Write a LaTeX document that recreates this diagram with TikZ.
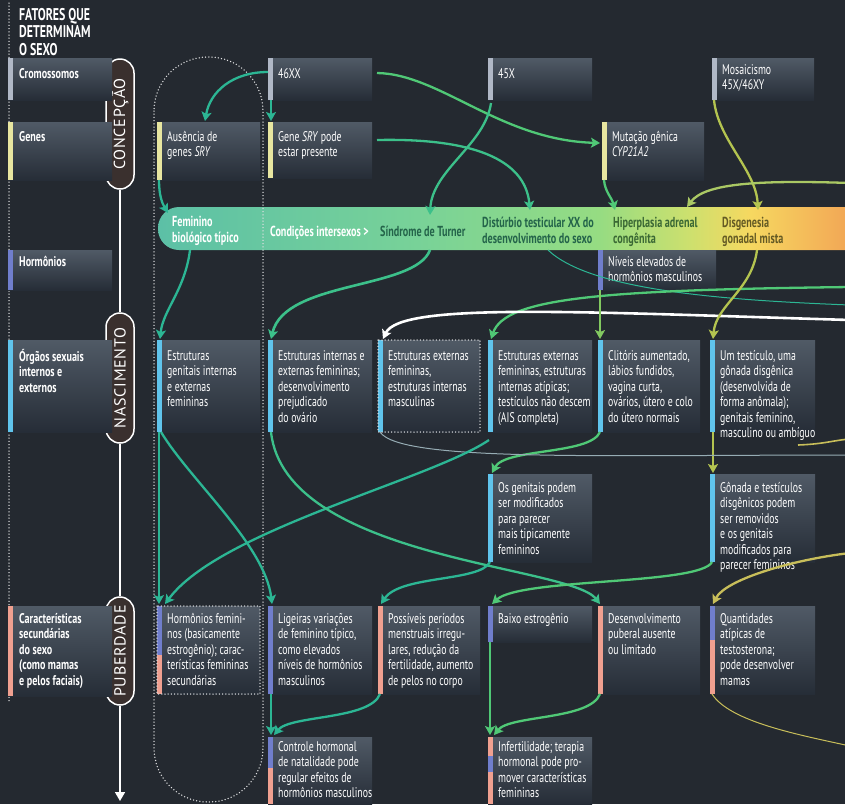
\documentclass[tikz,border=0pt]{standalone}
\usepackage{fontspec}
\setmainfont{PT Sans}[FakeStretch=0.7]
\newfontfamily\labfont{PT Sans}[FakeStretch=0.72]
\newfontfamily\pillfont{PT Sans}[LetterSpace=5]
\usetikzlibrary{arrows.meta,calc}
\definecolor{bg}{RGB}{36,41,48}
\definecolor{boxtop}{RGB}{80,90,102}
\definecolor{boxbot}{RGB}{38,45,55}
\definecolor{bargrey}{RGB}{176,184,198}
\definecolor{baryel}{RGB}{232,230,160}
\definecolor{barpur}{RGB}{112,126,204}
\definecolor{barblu}{RGB}{96,196,236}
\definecolor{barsal}{RGB}{240,160,144}
\definecolor{cteal}{RGB}{44,182,148}
\definecolor{cteal2}{RGB}{60,192,138}
\definecolor{cgreen}{RGB}{80,200,118}
\definecolor{cgreen2}{RGB}{130,200,96}
\definecolor{cyg}{RGB}{180,196,80}
\definecolor{cyg2}{RGB}{170,200,100}
\definecolor{cyel}{RGB}{200,190,90}
\definecolor{cpale}{RGB}{150,172,180}
\definecolor{pillfill}{RGB}{58,48,46}
\definecolor{bandA}{RGB}{92,192,166}
\definecolor{bandB}{RGB}{120,210,152}
\definecolor{bandC}{RGB}{150,220,130}
\definecolor{bandD}{RGB}{205,224,110}
\definecolor{bandE}{RGB}{246,216,96}
\definecolor{bandF}{RGB}{242,168,86}
\definecolor{btxtA}{RGB}{36,100,74}
\definecolor{btxtB}{RGB}{58,104,52}
\definecolor{btxtC}{RGB}{100,90,36}
\pgfdeclarehorizontalshading{bandshade}{100bp}{color(0bp)=(bandA); color(25bp)=(bandA); color(43bp)=(bandB); color(55.6bp)=(bandC); color(61.8bp)=(bandD); color(66bp)=(bandE); color(72.6bp)=(bandF); color(100bp)=(bandF)}
\newcommand\cbox[8]{%
  \node[cboxst,minimum width=#4pt,minimum height=#5pt,anchor=north west] (#1) at (#2,#3) {};
  \fill[#6] (#1.north west) rectangle ($(#1.south west)+(5,0)$);
  \node[ctext,anchor=north west] (#1t) at ($(#1.north west)+(10,#7)$) {\strut #8};
}
\newcommand\lbox[8]{%
  \node[cboxst,minimum width=#4pt,minimum height=#5pt,anchor=north west] (#1) at (#2,#3) {};
  \fill[#6] (#1.north west) rectangle ($(#1.south west)+(5,0)$);
  \node[ltext,anchor=north west] (#1t) at ($(#1.north west)+(11,#7)$) {\strut #8};
}
\begin{document}
\begin{tikzpicture}[x=1pt,y=-1pt,
  cboxst/.style={rectangle,inner sep=0pt,outer sep=0pt,top color=boxtop,bottom color=boxbot,draw=none},
  ctext/.style={inner sep=0pt,align=left,text=white,font=\fontsize{14}{15.5}\selectfont},
  ltext/.style={inner sep=0pt,align=left,text=white,font=\labfont\fontsize{14}{15.5}\selectfont\bfseries},
  title/.style={inner sep=0pt,align=left,text=white,font=\fontsize{17}{17.5}\selectfont\bfseries},
  bandtxt/.style={inner sep=0pt,align=left,font=\fontsize{14.5}{16}\selectfont\bfseries},
  bandst/.style={rectangle,inner sep=0pt,outer sep=0pt,rounded corners=21pt,shade,shading=bandshade},
  pill/.style={rectangle,rounded corners=14pt,draw=white,line width=1.5pt,fill=pillfill,minimum height=28pt,inner sep=0pt,rotate=90,text=white,font=\pillfont\fontsize{16}{16}\selectfont},
  dots/.style={draw=white!85!bg,line width=1.5pt,dash pattern=on 0pt off 3.2pt,line cap=round},
  conn/.style={line width=2.3pt,-{Stealth[length=9pt,width=10pt,inset=2pt]}},
  thinln/.style={line width=1pt}
]
\useasboundingbox (0,0) rectangle (845,804);
\fill[bg] (0,0) rectangle (845,804);
\coordinate (r1) at (850,183);
\coordinate (r2) at (850,287);
\coordinate (r3) at (850,320);
\coordinate (r4) at (850,305);
\coordinate (r6) at (850,455);
\coordinate (r7) at (850,553);
\coordinate (r8) at (850,746);
\coordinate (r9) at (850,439);
\coordinate (tlend) at (120,801);

% left dotted guide
\draw[dots] (9,3) -- (9,702);

% band
\node[bandst,minimum width=722pt,minimum height=43pt,anchor=north west] (band) at (158,207) {};
\node[bandtxt,text=white,anchor=north west] (tFem) at (172,215) {\strut Feminino\\biológico típico};
\node[bandtxt,text=white,anchor=north west] (tCond) at (270,225) {\strut Condições intersexos\,>};
\node[bandtxt,text=btxtA,anchor=north west] (tTurner) at (380,225) {\strut Síndrome de Turner};
\node[bandtxt,text=btxtA,anchor=north west] (tDist) at (482,216) {\strut Distúrbio testicular XX do\\desenvolvimento do sexo};
\node[bandtxt,text=btxtB,anchor=north west] (tHip) at (613,216) {\strut Hiperplasia adrenal\\congênita};
\node[bandtxt,text=btxtC,anchor=north west] (tDis) at (722,216) {\strut Disgenesia\\gonadal mista};

% dotted oval
\draw[dots,rounded corners=54pt] (154,57) rectangle (263,802);

% title
\node[title,anchor=north west] (title) at (19,8) {\strut FATORES QUE\\DETERMINAM\\O SEXO};

% timeline
\node[pill,minimum width=130pt] (pConc) at (120,124) {CONCEPÇÃO};
\node[pill,minimum width=130pt] (pNasc) at (120,378) {NASCIMENTO};
\node[pill,minimum width=108pt] (pPub) at (120,651) {PUBERDADE};
\draw[white,line width=1.6pt] (pConc.west) -- (pNasc.east);
\draw[white,line width=1.6pt] (pNasc.west) -- (pPub.east);
\draw[white,line width=1.6pt,-{Triangle[length=9pt,width=10pt]}] (pPub.west) -- (tlend);

% yellow line behind box
\draw[thinln,cyel,line width=1.6pt] ($(band.south west)+(640,195)$) .. controls (825,444) and (835,440) .. (r9);

% row labels
\lbox{lCrom}{8}{58}{104}{42}{bargrey}{9}{Cromossomos}
\lbox{lGenes}{8}{122}{104}{58}{baryel}{8}{Genes}
\lbox{lHorm}{8}{250}{104}{40}{barpur}{5}{Hormônios}
\lbox{lOrg}{8}{340}{104}{92}{barblu}{9}{Órgãos sexuais\\internos e\\externos}
\lbox{lCar}{8}{606}{104}{90}{barsal}{6}{Características\\secundárias\\do sexo\\(como mamas\\e pelos faciais)}

% row 1
\cbox{b46}{268}{58}{104}{42}{bargrey}{9}{46XX}
\cbox{b45}{488}{58}{104}{42}{bargrey}{9}{45X}
\cbox{bMos}{712}{58}{102}{42}{bargrey}{5}{Mosaicismo\\45X/46XY}
% row 2
\cbox{bAus}{157}{122}{103}{58}{baryel}{8}{Ausência de\\genes \textit{SRY}}
\cbox{bSRY}{268}{122}{104}{56}{baryel}{8}{Gene \textit{SRY} pode\\estar presente}
\cbox{bCYP}{602}{122}{102}{58}{baryel}{8}{Mutação gênica\\\textit{CYP21A2}}
% hormones
\cbox{bNiv}{598}{250}{118}{40}{barpur}{5}{Níveis elevados de\\hormônios masculinos}
% row 4
\cbox{bO1}{157}{340}{103}{92}{barblu}{9}{Estruturas\\genitais internas\\e externas\\femininas}
\cbox{bO2}{268}{340}{104}{92}{barblu}{9}{Estruturas internas e\\externas femininas;\\desenvolvimento\\prejudicado\\do ovário}
\cbox{bO3}{378}{340}{102}{92}{barblu}{9}{Estruturas externas\\femininas,\\estruturas internas\\masculinas}
\cbox{bO4}{488}{340}{104}{92}{barblu}{9}{Estruturas externas\\femininas, estruturas\\internas atípicas;\\testículos não descem\\(AIS completa)}
\cbox{bO5}{598}{340}{102}{92}{barblu}{9}{Clitóris aumentado,\\lábios fundidos,\\vagina curta,\\ovários, útero e colo\\do útero normais}
\cbox{bO6}{710}{340}{105}{92}{barblu}{9}{Um testículo, uma\\gônada disgênica\\(desenvolvida de\\forma anômala);\\genitais feminino,\\masculino ou ambíguo}
\draw[dots] (bO3.north west) rectangle (bO3.south east);
% row 5
\cbox{bG1}{488}{474}{104}{88}{barblu}{7}{Os genitais podem\\ser modificados\\para parecer\\mais tipicamente\\femininos}
\cbox{bG2}{710}{474}{105}{88}{barblu}{7}{Gônada e testículos\\disgênicos podem\\ser removidos\\e os genitais\\modificados para\\parecer femininos}
% row 6
\cbox{bC1}{157}{606}{103}{88}{barpur}{6}{Hormônios femini-\\nos (basicamente\\estrogênio); carac-\\terísticas femininas\\secundárias}
\fill[barsal] ($(bC1.north west)+(0,49)$) rectangle ($(bC1.south west)+(5,0)$);
\draw[dots] (bC1.north west) rectangle (bC1.south east);
\cbox{bC2}{268}{606}{104}{88}{barpur}{6}{Ligeiras variações\\de feminino típico,\\como elevados\\níveis de hormônios\\masculinos}
\cbox{bC3}{378}{606}{102}{88}{barsal}{6}{Possíveis períodos\\menstruais irregu-\\lares, redução da\\fertilidade, aumento\\de pelos no corpo}
\cbox{bC4}{488}{606}{104}{36}{barpur}{6}{Baixo estrogênio}
\cbox{bC5}{598}{606}{102}{88}{barsal}{6}{Desenvolvimento\\puberal ausente\\ou limitado}
\cbox{bC6}{710}{606}{105}{88}{barpur}{6}{Quantidades\\atípicas de\\testosterona;\\pode desenvolver\\mamas}
\fill[barsal] ($(bC6.north west)+(0,34)$) rectangle ($(bC6.south west)+(5,0)$);
% row 7
\cbox{bF1}{268}{737}{104}{67}{barpur}{3}{Controle hormonal\\de natalidade pode\\regular efeitos de\\hormônios masculinos}
\fill[barsal] ($(bF1.north west)+(0,31)$) rectangle ($(bF1.south west)+(5,0)$);
\cbox{bF2}{488}{737}{104}{67}{barsal}{3}{Infertilidade; terapia\\hormonal pode pro-\\mover características\\femininas}
\fill[barpur] ($(bF2.north west)+(0,19)$) rectangle ($(bF2.north west)+(5,35)$);

% connectors
\draw[conn,cteal] ($(b46.north west)+(0,14)$) .. controls (232,72) and (210,92) .. ($(bAus.north west)+(48,-1)$);
\draw[conn,cteal] ($(b46.south west)+(3,0)$) -- ($(bSRY.north west)+(3,-1)$);
\draw[conn,cgreen] ($(b46.north east)+(5,15)$) .. controls (440,74) and (500,140) .. ($(bCYP.north west)+(-2,21)$);
\draw[conn,cteal2] ($(bSRY.north east)+(5,18)$) .. controls (470,138) and (525,158) .. ($(band.north west)+(372,3)$);
\draw[conn,cteal2] ($(b45.south west)+(3,3)$) .. controls (485,145) and (432,170) .. ($(band.north west)+(272,8)$);
\draw[conn,cgreen] ($(bCYP.south west)+(2,0)$) .. controls (605,192) and (612,198) .. ($(band.north west)+(457,3)$);
\draw[conn,cyg] ($(bMos.south west)+(2,0)$) .. controls (718,140) and (756,170) .. ($(band.north west)+(600,3)$);
\draw[conn,cyg2] (r1) .. controls (760,180) and (705,183) .. ($(band.north west)+(529,0)$);
\draw[conn,cteal] ($(bAus.south west)+(2,0)$) .. controls (159,195) and (162,203) .. ($(band.north west)+(10,6)$);
\draw[conn,cteal] ($(band.south west)+(32,0)$) .. controls (185,290) and (163,310) .. ($(bO1.north west)+(3,-1)$);
\draw[conn,cteal2,line width=2.6pt] ($(band.south west)+(272,0)$) .. controls (415,290) and (285,280) .. ($(bO2.north west)+(3,-1)$);
\draw[thinln,cteal] ($(band.south west)+(390,0)$) .. controls (590,290) and (720,300) .. (r4);
\draw[conn,cgreen] (r2) .. controls (600,290) and (505,298) .. ($(bO4.north west)+(3,-1)$);
\draw[conn,white,line width=2.6pt] (r3) .. controls (580,312) and (400,302) .. ($(bO3.north west)+(5,-1)$);
\draw[conn,cgreen2] ($(bNiv.south west)+(2,0)$) -- ($(bO5.north west)+(2,-1)$);
\draw[conn,cyg] ($(band.south west)+(599,0)$) .. controls (752,290) and (716,305) .. ($(bO6.north west)+(3,-1)$);
\draw[conn,cyg] ($(bO6.south west)+(3,0)$) -- ($(bG2.north west)+(3,-1)$);
\draw[conn,cgreen] ($(bO5.south west)+(2,0)$) .. controls (590,455) and (505,448) .. ($(bG1.north west)+(4,-1)$);
\draw[thinln,cpale] ($(bO3.south west)+(2,0)$) .. controls (400,462) and (600,455) .. (r6);
\draw[conn,cteal,line width=1.4pt] ($(bO1.south west)+(2,0)$) -- ($(bC1.north west)+(2,-2)$);
\draw[conn,cteal] ($(bO1.south west)+(4,0)$) .. controls (190,480) and (265,545) .. ($(bC2.north west)+(4,-2)$);
\draw[conn,cteal] ($(bO4.south west)+(1,8)$) .. controls (430,480) and (220,530) .. ($(bC1.north west)+(8,-2)$);
\draw[conn,cteal2] ($(bO2.south west)+(3,0)$) .. controls (285,560) and (570,565) .. ($(bC5.north west)+(2,-2)$);
\draw[conn,cgreen] ($(bG2.south west)+(2,0)$) .. controls (700,585) and (520,578) .. ($(bC4.north west)+(4,-2)$);
\draw[conn,cteal] ($(bG1.south west)+(2,0)$) .. controls (480,582) and (400,575) .. ($(bC3.north west)+(3,-2)$);
\draw[conn,cyel] (r7) .. controls (790,560) and (725,580) .. ($(bC6.north west)+(3,-2)$);
\draw[conn,cteal] ($(bC2.south west)+(3,0)$) -- ($(bF1.north west)+(3,-2)$);
\draw[conn,cteal] ($(bC3.south west)+(2,0)$) .. controls (370,720) and (290,715) .. ($(bF1.north west)+(6,-2)$);
\draw[conn,cgreen] ($(bC4.south west)+(2,0)$) -- ($(bF2.north west)+(2,-2)$);
\draw[conn,cgreen] ($(bC5.south west)+(2,0)$) .. controls (590,720) and (510,715) .. ($(bF2.north west)+(6,-2)$);
\draw[thinln,cyel] ($(bC6.south west)+(2,0)$) .. controls (730,722) and (800,735) .. (r8);
\end{tikzpicture}
\end{document}
